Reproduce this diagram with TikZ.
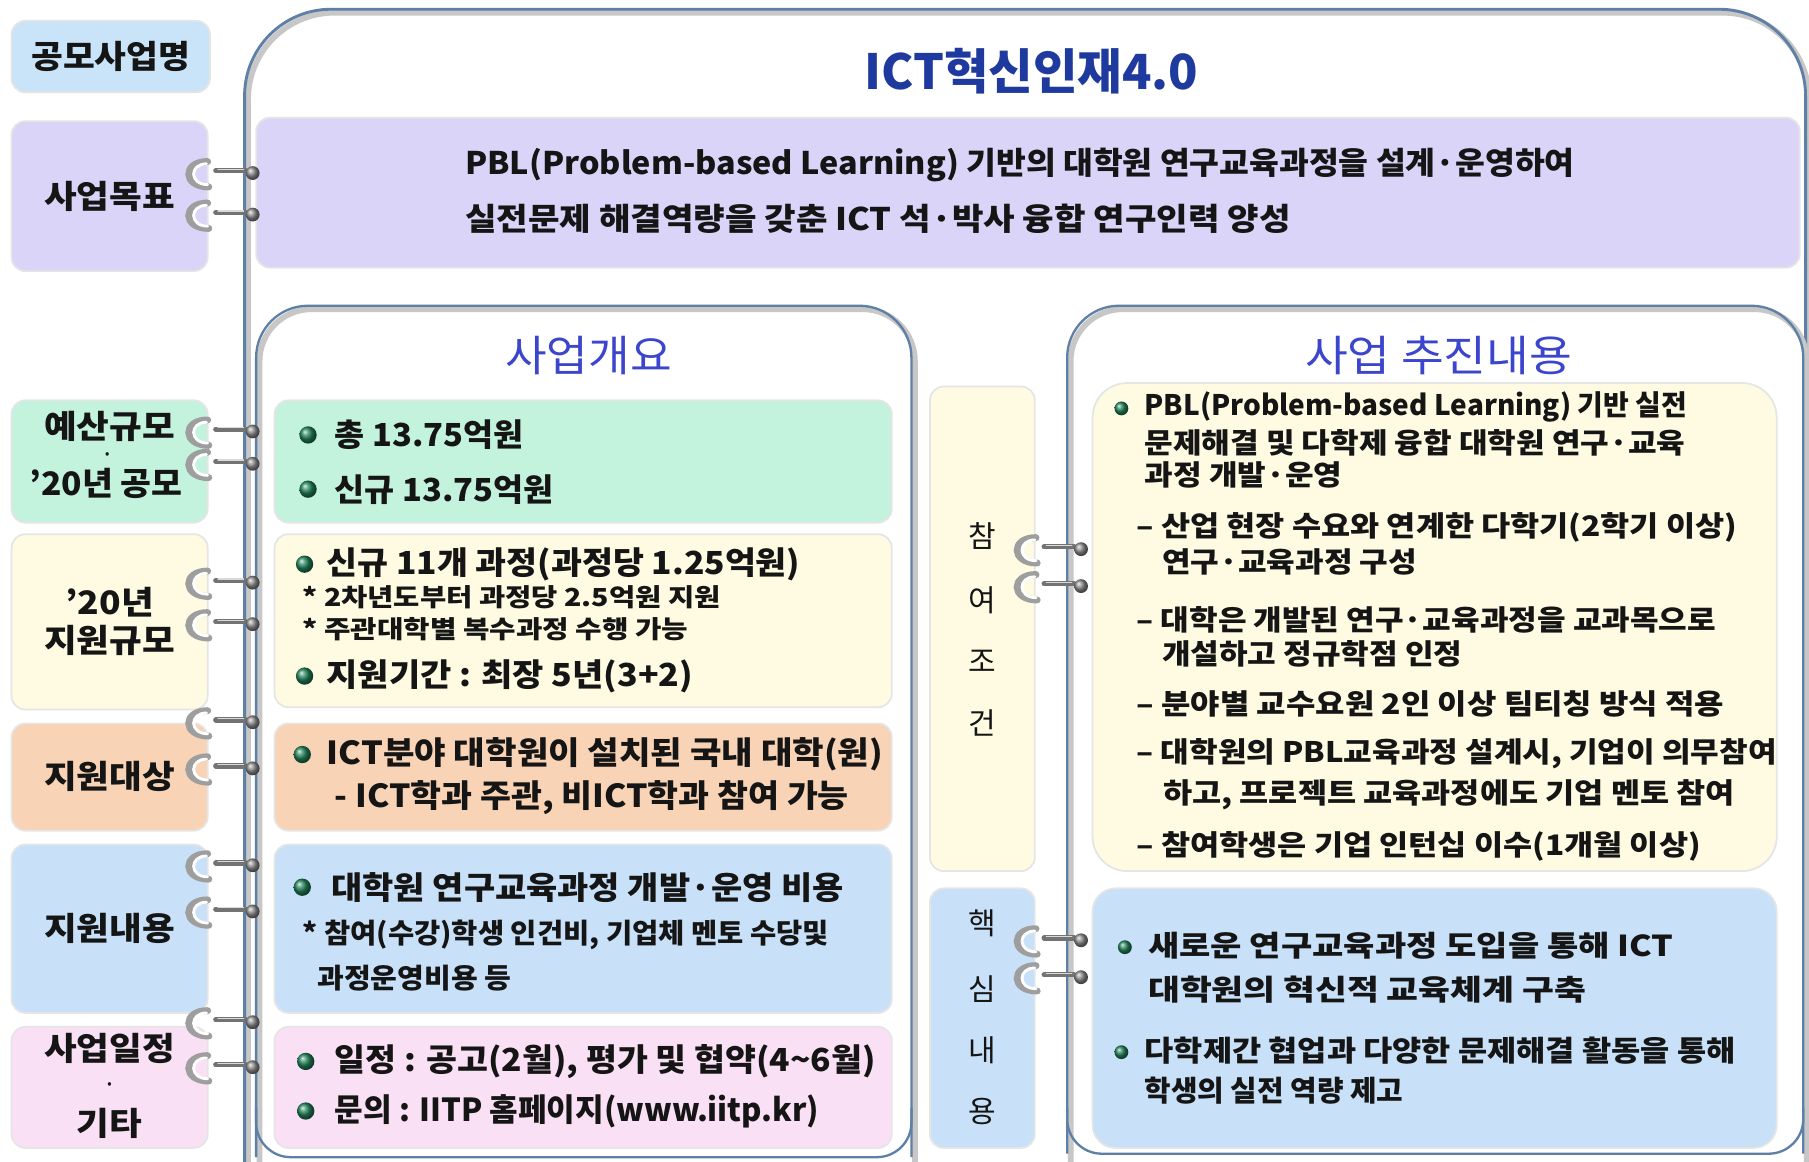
\documentclass[tikz,border=0pt]{standalone}
\usepackage{fontspec}
\setmainfont{Noto Sans CJK KR}
\newcommand\fz[1]{\fontsize{#1pt}{#1pt}\selectfont}
\newcommand\hs[2]{\scalebox{#1}[1]{#2}}
\definecolor{lblblue}{HTML}{C9E4F8}
\definecolor{lav}{HTML}{D9D4F8}
\definecolor{mint}{HTML}{C3F2DD}
\definecolor{cream}{HTML}{FEFBE2}
\definecolor{peach}{HTML}{F8D3B5}
\definecolor{skyb}{HTML}{C8E1F8}
\definecolor{pinkb}{HTML}{FAE0F4}
\definecolor{titleblue}{HTML}{1F3A9F}
\definecolor{subblue}{HTML}{3C46CC}
\definecolor{framec}{HTML}{5E7FA6}
\definecolor{bulg}{HTML}{23835A}
\definecolor{txt}{HTML}{151515}
\begin{document}
\begin{tikzpicture}[x=1pt,y=-1pt,
  box/.style={rounded corners=12pt, inner sep=0pt, draw=black!10, line width=1.5pt},
  lbltxt/.style={font=\bfseries\fz{28}, text=txt, inner sep=0pt},
  ctxt/.style={font=\bfseries\fz{27.5}, text=txt, inner sep=0pt, anchor=west},
  ntxt/.style={font=\bfseries\fz{21.5}, text=txt, inner sep=0pt, anchor=west},
  rtxt/.style={font=\bfseries\fz{24.5}, text=txt, inner sep=0pt, anchor=west},
  vtxt/.style={font=\fz{26}, text=txt, inner sep=0pt},
  frameline/.style={draw=framec, line width=2.5pt},
  frameshadow/.style={draw=black!22, line width=5pt},
  ring/.pic={
    \draw[line width=6pt, black!38, line cap=round] (-42,-10) .. controls (-64,-10) and (-64,12) .. (-41,12);
    \draw[line width=2.5pt, white, line cap=round] (-43,-8) .. controls (-58,-8) and (-58,10) .. (-42,10);
    \draw[line width=4.5pt, black!55, line cap=round] (-35,-2) -- (-9,-2);
    \draw[line width=1.2pt, black!15, line cap=round] (-33,-3.2) -- (-11,-3.2);
    \shade[ball color=black!45] (-3,0) circle (6);
  }
]
\useasboundingbox (0,0) rectangle (1568,1007);
\fill[white] (0,0) rectangle (1568,1007);

% outer frame
\draw[frameshadow, rounded corners=75pt] (215,1012) -- (215,11) -- (1568,11) -- (1568,1012);
\draw[frameline, rounded corners=75pt] (212,1010) -- (212,8) -- (1565,8) -- (1565,1010);

% left label boxes
\node[box, fill=lblblue, minimum width=172pt, minimum height=62pt] (L1) at (96,49) {};
\node[box, fill=lav, minimum width=170pt, minimum height=130pt] (L2) at (95,170) {};
\node[box, fill=mint, minimum width=170pt, minimum height=106pt] (L3) at (95,400) {};
\node[box, fill=cream, minimum width=170pt, minimum height=152pt] (L4) at (95,539) {};
\node[box, fill=peach, minimum width=170pt, minimum height=93pt] (L5) at (95,673.5) {};
\node[box, fill=skyb, minimum width=170pt, minimum height=146pt] (L6) at (95,805) {};
\node[box, fill=pinkb, minimum width=170pt, minimum height=105pt] (L7) at (95,942.5) {};

\node[lbltxt] (l1t) at (L1) {\hs{1.07}{공모사업명}};
\node[lbltxt] (l2t) at (L2) {\hs{1.1}{사업목표}};
\node[lbltxt] (l3a) at (95,370) {\hs{1.1}{예산규모}};
\node[lbltxt, font=\bfseries\fz{14}] (l3b) at (93,396) {·};
\node[lbltxt] (l3c) at (92,419) {\hs{1.04}{’20년 공모}};
\node[lbltxt] (l4a) at (95,522) {\hs{1.1}{’20년}};
\node[lbltxt] (l4b) at (95,555) {\hs{1.1}{지원규모}};
\node[lbltxt] (l5t) at (95,673) {\hs{1.1}{지원대상}};
\node[lbltxt] (l6t) at (95,805) {\hs{1.1}{지원내용}};
\node[lbltxt] (l7a) at (95,909) {\hs{1.1}{사업일정}};
\node[lbltxt, font=\bfseries\fz{14}] (l7b) at (95,942) {·};
\node[lbltxt] (l7c) at (95,974) {\hs{1.1}{기타}};

% title
\node[font=\bfseries\fz{42}, text=titleblue, inner sep=0pt] (title) at (894,62) {ICT혁신인재4.0};

% goal box
\node[box, fill=lav, minimum width=1338pt, minimum height=130pt] (G) at (891,167) {};
\node[font=\bfseries\fz{27}, text=txt, inner sep=0pt, anchor=west] (g1) at (403,143) {\hs{1.04}{PBL(Problem-based Learning) 기반의 대학원 연구교육과정을 설계·운영하여}};
\node[font=\bfseries\fz{27}, text=txt, inner sep=0pt, anchor=west] (g2) at (403,190) {\hs{1.1}{실전문제 해결역량을 갖춘 ICT 석·박사 융합 연구인력 양성}};

% inner frames
\draw[frameshadow, rounded corners=45pt] (225,1012) -- (225,268) -- (793,268) -- (793,1012);
\draw[frameline, line width=2pt, rounded corners=45pt] (222,1003) -- (222,265) -- (790,265) -- (790,1003) ;
\draw[frameshadow, rounded corners=45pt] (928,1012) -- (928,268) -- (1566,268) -- (1566,1012);
\draw[frameline, line width=2pt, rounded corners=45pt] (925,1000) -- (925,265) -- (1563,265) -- (1563,1000);
\draw[frameline, line width=2pt, rounded corners=30pt] (222,960) -- (222,1003) -- (790,1003) -- (790,960);
\draw[frameline, line width=2pt, rounded corners=30pt] (925,960) -- (925,1000) -- (1563,1000) -- (1563,960);

\node[font=\fz{37}, text=subblue, inner sep=0pt] (h1) at (510,308) {\hs{1.06}{사업개요}};
\node[font=\fz{37}, text=subblue, inner sep=0pt] (h2) at (1247,308) {\hs{1.09}{사업 추진내용}};

% left content boxes
\node[box, fill=mint, minimum width=535pt, minimum height=106pt] (C2) at (505.5,400) {};
\node[box, fill=cream, minimum width=535pt, minimum height=150pt] (C3) at (505.5,538) {};
\node[box, fill=peach, minimum width=535pt, minimum height=93pt] (C4) at (505.5,673.5) {};
\node[box, fill=skyb, minimum width=535pt, minimum height=146pt] (C5) at (505.5,805) {};
\node[box, fill=pinkb, minimum width=535pt, minimum height=105pt] (C6) at (505.5,942.5) {};

\foreach \x/\y in {267/377,267/424,264/489,264/586,262/654,262/769,265/920,265/963}
  \shade[ball color=bulg] (\x,\y) circle (7.5);

\node[ctxt] (c2a) at (290,377) {\hs{1.03}{총 13.75억원}};
\node[ctxt] (c2b) at (290,424) {\hs{1.03}{신규 13.75억원}};
\node[ctxt] (c3a) at (283,489) {\hs{1.06}{신규 11개 과정(과정당 1.25억원)}};
\node[ntxt] (c3b) at (262,518) {\hs{1.15}{* 2차년도부터 과정당 2.5억원 지원}};
\node[ntxt] (c3c) at (262,545) {\hs{1.16}{* 주관대학별 복수과정 수행 가능}};
\node[ctxt] (c3d) at (283,586) {\hs{1.07}{지원기간 : 최장 5년(3+2)}};
\node[ctxt] (c4a) at (283,654) {\hs{1.08}{ICT분야 대학원이 설치된 국내 대학(원)}};
\node[ctxt] (c4b) at (290,691) {\hs{1.06}{- ICT학과 주관, 비ICT학과 참여 가능}};
\node[ctxt] (c5a) at (287,769) {\hs{1.07}{대학원 연구교육과정 개발·운영 비용}};
\node[ntxt, font=\bfseries\fz{24}] (c5b) at (262,810) {\hs{1.03}{* 참여(수강)학생 인건비, 기업체 멘토 수당및}};
\node[ntxt, font=\bfseries\fz{24}] (c5c) at (275,848) {\hs{1.05}{과정운영비용 등}};
\node[ctxt] (c6a) at (290,920) {\hs{1.06}{일정 : 공고(2월), 평가 및 협약(4\textasciitilde 6월)}};
\node[ctxt] (c6b) at (290,963) {\hs{0.98}{문의 : IITP 홈페이지(www.iitp.kr)}};

% middle column
\node[box, fill=cream, minimum width=91pt, minimum height=420pt] (M1) at (851.5,545) {};
\node[box, fill=skyb, minimum width=91pt, minimum height=225pt] (M2) at (851.5,882.5) {};
\node[vtxt] (m1a) at (851,465) {참};
\node[vtxt] (m1b) at (851,520) {여};
\node[vtxt] (m1c) at (851,573) {조};
\node[vtxt] (m1d) at (851,627) {건};
\node[vtxt] (m2a) at (851,800) {핵};
\node[vtxt] (m2b) at (851,857) {심};
\node[vtxt] (m2c) at (851,910) {내};
\node[vtxt] (m2d) at (851,963) {용};

% right content boxes
\node[box, rounded corners=30pt, fill=cream, minimum width=593pt, minimum height=423pt] (R1) at (1243.5,543.5) {};
\node[box, rounded corners=20pt, fill=skyb, minimum width=593pt, minimum height=225pt] (R2) at (1243.5,882.5) {};

\foreach \x/\y in {972/354,975/821,972/912}
  \shade[ball color=bulg] (\x,\y) circle (6);

\node[rtxt] (r1) at (992,353) {\hs{0.99}{PBL(Problem-based Learning) 기반 실전}};
\node[rtxt] (r2) at (992,384) {\hs{1.1}{문제해결 및 다학제 융합 대학원 연구·교육}};
\node[rtxt] (r3) at (992,412) {\hs{1.1}{과정 개발·운영}};
\node[rtxt] (r4) at (985,457) {\hs{1.12}{– 산업 현장 수요와 연계한 다학기(2학기 이상)}};
\node[rtxt] (r5) at (1007,487) {\hs{1.1}{연구·교육과정 구성}};
\node[rtxt] (r6) at (985,537) {\hs{1.1}{– 대학은 개발된 연구·교육과정을 교과목으로}};
\node[rtxt] (r7) at (1007,567) {\hs{1.1}{개설하고 정규학점 인정}};
\node[rtxt] (r8) at (985,610) {\hs{1.13}{– 분야별 교수요원 2인 이상 팀티칭 방식 적용}};
\node[rtxt] (r9) at (985,653) {\hs{1.1}{– 대학원의 PBL교육과정 설계시, 기업이 의무참여}};
\node[rtxt] (r10) at (1008,689) {\hs{1.12}{하고, 프로젝트 교육과정에도 기업 멘토 참여}};
\node[rtxt] (r11) at (985,734) {\hs{1.12}{– 참여학생은 기업 인턴십 이수(1개월 이상)}};

\node[rtxt, font=\bfseries\fz{25}] (s1) at (995,820) {\hs{1.18}{새로운 연구교육과정 도입을 통해 ICT}};
\node[rtxt, font=\bfseries\fz{25}] (s2) at (995,858) {\hs{1.2}{대학원의 혁신적 교육체계 구축}};
\node[rtxt, font=\bfseries\fz{25}] (s3) at (992,911) {\hs{1.1}{다학제간 협업과 다양한 문제해결 활동을 통해}};
\node[rtxt, font=\bfseries\fz{25}] (s4) at (992,945) {\hs{1.0}{학생의 실전 역량 제고}};

% binder rings
\foreach \y in {150,186,374,402,505,541,626,666,750,790,886,925}
  \pic at (222,\y) {ring};
\foreach \y in {476,508,815,847}
  \pic at (940,\y) {ring};
\end{tikzpicture}
\end{document}
